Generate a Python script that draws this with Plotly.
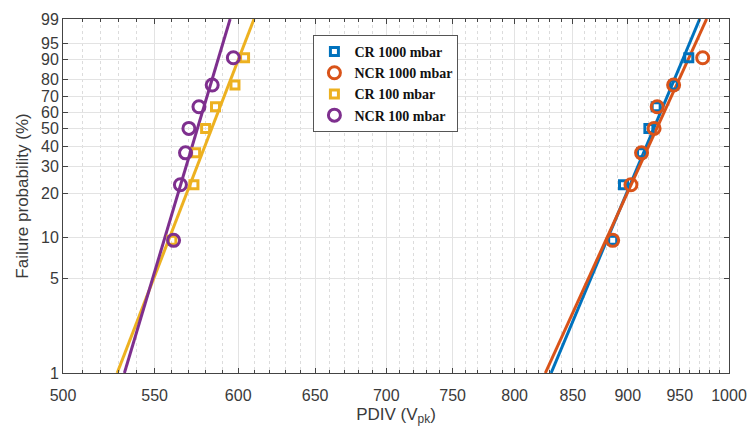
import numpy as np
import plotly.graph_objects as go

# Failure probabilities (%) — median ranks for n = 7
prob = [9.5, 23, 36.5, 50, 63.5, 77, 90.5]

cr1000 = [886, 896, 913, 920, 927, 944, 959]
ncr1000 = [886, 903, 913, 925, 928, 944, 973]
cr100 = [560, 573, 574, 580, 586, 598, 604]
ncr100 = [561, 565, 568, 570, 576, 584, 597]

# Fitted Weibull lines (endpoints)
line_p = [1, 99]
cr1000_line = [831, 970]
ncr1000_line = [826, 977]
cr100_line = [529, 610]
ncr100_line = [533, 595]

y_ticks = [1, 5, 10, 20, 30, 40, 50, 60, 70, 80, 90, 95, 99]
x_ticks = [500, 550, 600, 650, 700, 750, 800, 850, 900, 950, 1000]
x_minor = list(range(510, 1000, 10))

colors = {"cr1000": "#0072BD", "ncr1000": "#D95319", "cr100": "#EDB120", "ncr100": "#7E2F8E"}


def wb(p):
    p = np.asarray(p, dtype=float) / 100.0
    return np.log(-np.log(1.0 - p))


fig = go.Figure()

for vals, key in [(cr1000_line, "cr1000"), (ncr1000_line, "ncr1000"),
                  (cr100_line, "cr100"), (ncr100_line, "ncr100")]:
    fig.add_trace(go.Scatter(x=vals, y=wb(line_p), mode="lines",
                             line=dict(color=colors[key], width=3),
                             showlegend=False, hoverinfo="skip"))

series = [
    ("CR 1000 mbar", cr1000, "cr1000", "square-open", 8),
    ("NCR 1000 mbar", ncr1000, "ncr1000", "circle-open", 12),
    ("CR 100 mbar", cr100, "cr100", "square-open", 8),
    ("NCR 100 mbar", ncr100, "ncr100", "circle-open", 12),
]
for name, vals, key, sym, size in series:
    fig.add_trace(go.Scatter(x=vals, y=wb(prob), mode="markers", name=name,
                             marker=dict(symbol=sym, size=size, color=colors[key],
                                         line=dict(width=3, color=colors[key]))))

axis_common = dict(showline=True, linecolor="#444", linewidth=1, mirror="ticks",
                   ticks="inside", ticklen=5, tickcolor="#444", automargin=False,
                   gridcolor="#e3e3e3", gridwidth=1, zeroline=False,
                   tickfont=dict(family="Liberation Sans, Arial", size=16, color="#3a3a3a"))

fig.update_xaxes(type="log", range=[np.log10(500), np.log10(1000)],
                 tickvals=x_ticks, ticktext=[str(v) for v in x_ticks],
                 ticklabelstandoff=8,
                 minor=dict(tickvals=x_minor, ticks="inside", ticklen=3, tickcolor="#444",
                            showgrid=True, gridcolor="#dcdcdc", griddash="dot", gridwidth=1),
                 title=dict(text="PDIV (V<sub>pk</sub>)", standoff=4,
                            font=dict(family="Liberation Sans, Arial", size=17, color="#3a3a3a")),
                 **axis_common)

fig.update_yaxes(range=[float(wb(1)), float(wb(99))],
                 tickvals=wb(y_ticks).tolist(), ticktext=[str(v) for v in y_ticks],
                 title=dict(text="Failure probability (%)", standoff=8,
                            font=dict(family="Liberation Sans, Arial", size=17, color="#3a3a3a")),
                 **axis_common)

fig.update_layout(
    width=748, height=434,
    margin=dict(l=63, r=19, t=19, b=61),
    paper_bgcolor="white", plot_bgcolor="white",
    legend=dict(x=0.376, y=0.955, xanchor="left", yanchor="top",
                bgcolor="white", bordercolor="#555", borderwidth=1,
                font=dict(family="Liberation Serif, Times New Roman", size=14,
                          color="#111", weight="bold"),
                itemwidth=30, tracegroupgap=0),
)

fig.write_html("out.html")
